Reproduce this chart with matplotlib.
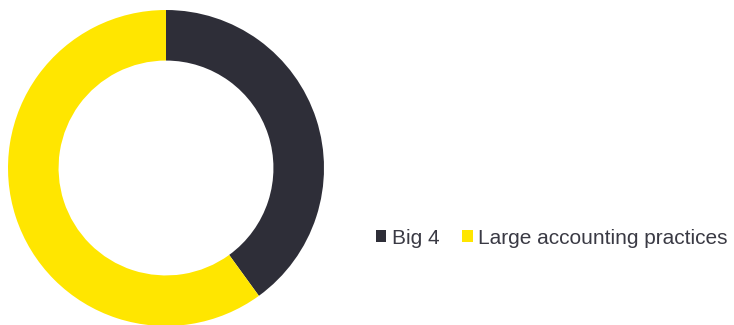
import matplotlib.pyplot as plt

labels = ["Big 4", "Large accounting practices"]
shares = [40, 60]
colors = ["#2e2e38", "#ffe600"]

plt.rcParams['font.family'] = ['Liberation Sans', 'DejaVu Sans']

fig = plt.figure(figsize=(7.34, 3.25), dpi=100)
ax = fig.add_axes([8 / 734, -1 / 325, 316 / 734, 316 / 325])
wedges, _ = ax.pie(shares, colors=colors, startangle=90, counterclock=False,
                   radius=1, wedgeprops=dict(width=0.32, linewidth=0))
ax.set_xlim(-1, 1)
ax.set_ylim(-1, 1)
ax.set_aspect('equal')
ax.axis('off')

leg = fig.legend(wedges, labels, loc='center left', bbox_to_anchor=(376 / 734, 1 - 238 / 325),
                 ncol=2, frameon=False, fontsize=15, handlelength=0.5, handleheight=0.5,
                 handletextpad=0.25, columnspacing=1.1, borderaxespad=0, borderpad=0)
for t in leg.get_texts():
    t.set_color('#3a3a44')

fig.savefig('out.png', dpi=100)
